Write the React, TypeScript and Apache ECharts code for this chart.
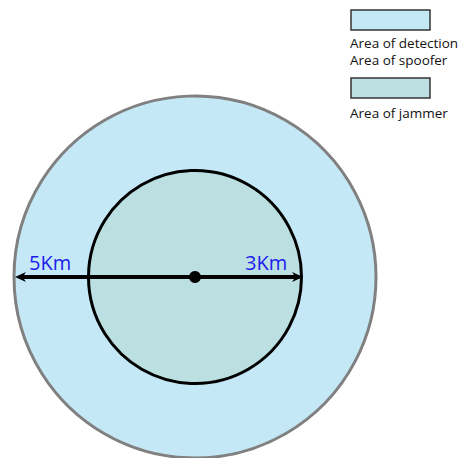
import React, { useEffect, useRef } from "react";
import * as echarts from "echarts";

// Areas: radius in km
const areaNames = ["Area of detection", "Area of jammer"];
const areaRadii = [5, 3];
const areaFills = ["#c5e8f7", "#bcdfe1"];
const areaStrokes = ["#808080", "#000000"];
const rangeLabels = ["5Km", "3Km"];
const legendLabels = ["Area of detection", "Area of spoofer", "Area of jammer"];

const PX_PER_KM = 36.0;
const CX = 195;
const CY = 277;
const W = 464;
const H = 458;

export default function App() {
  const ref = useRef<HTMLDivElement>(null);
  useEffect(() => {
    if (!ref.current) return;
    const chart = echarts.init(ref.current, null, { renderer: "svg" });
    const xMin = -CX / PX_PER_KM;
    const xMax = (W - CX) / PX_PER_KM;
    const yMax = CY / PX_PER_KM;
    const yMin = -(H - CY) / PX_PER_KM;
    const circleData = areaRadii.map((r, i) => [0, 0, r, i]);
    const arrowData = areaRadii.map((r, i) => [i === 0 ? -r : r, 0, i]);
    const legendFont = "13.5px 'Open Sans', sans-serif";
    chart.setOption({
      animation: false,
      grid: { left: 0, top: 0, width: W, height: H },
      xAxis: { type: "value", min: xMin, max: xMax, show: false },
      yAxis: { type: "value", min: yMin, max: yMax, show: false },
      series: [
        {
          type: "custom",
          name: "areas",
          data: circleData,
          renderItem: (params: any, api: any) => {
            const c = api.coord([api.value(0), api.value(1)]);
            const r = api.size([api.value(2), 0])[0];
            const i = api.value(3);
            return {
              type: "circle",
              shape: { cx: c[0], cy: c[1], r: i === 0 ? r + 1 : r - 1.5 },
              style: {
                fill: areaFills[i],
                stroke: areaStrokes[i],
                lineWidth: 3,
              },
            };
          },
          z: 1,
        },
        {
          type: "custom",
          name: "arrows",
          data: arrowData,
          renderItem: (params: any, api: any) => {
            const c = api.coord([0, 0]);
            const e = api.coord([api.value(0), api.value(1)]);
            const i = api.value(2);
            const dir = e[0] < c[0] ? -1 : 1;
            const tip = [e[0], e[1]];
            const headLen = 11;
            const headHalf = 5;
            const label = rangeLabels[i];
            return {
              type: "group",
              children: [
                {
                  type: "line",
                  shape: { x1: c[0], y1: c[1], x2: e[0] - dir * headLen * 0.6, y2: e[1] },
                  style: { stroke: "#000", lineWidth: 4 },
                },
                {
                  type: "polygon",
                  shape: {
                    points: [
                      tip,
                      [tip[0] - dir * headLen, tip[1] - headHalf],
                      [tip[0] - dir * headLen * 0.7, tip[1]],
                      [tip[0] - dir * headLen, tip[1] + headHalf],
                    ],
                  },
                  style: { fill: "#000" },
                },
                {
                  type: "text",
                  x: dir < 0 ? e[0] + 14 : e[0] - 58,
                  y: e[1] - 25,
                  style: {
                    text: label,
                    fill: "#1c1cf0",
                    font: "20px 'Open Sans', sans-serif",
                  },
                },
              ],
            };
          },
          z: 2,
        },
        {
          type: "custom",
          name: "center",
          data: [[0, 0]],
          renderItem: (params: any, api: any) => {
            const c = api.coord([api.value(0), api.value(1)]);
            return {
              type: "circle",
              shape: { cx: c[0], cy: c[1], r: 6 },
              style: { fill: "#000" },
            };
          },
          z: 3,
        },
      ],
      graphic: [
        {
          type: "rect",
          shape: { x: 351, y: 10, width: 79, height: 20 },
          style: { fill: areaFills[0], stroke: "#333", lineWidth: 1.5 },
        },
        {
          type: "text",
          x: 350,
          y: 36,
          style: { text: legendLabels[0], fill: "#111", font: legendFont },
        },
        {
          type: "text",
          x: 350,
          y: 53,
          style: { text: legendLabels[1], fill: "#111", font: legendFont },
        },
        {
          type: "rect",
          shape: { x: 351, y: 78, width: 79, height: 20 },
          style: { fill: areaFills[1], stroke: "#333", lineWidth: 1.5 },
        },
        {
          type: "text",
          x: 350,
          y: 106,
          style: { text: legendLabels[2], fill: "#111", font: legendFont },
        },
      ],
    });
    return () => chart.dispose();
  }, []);
  return (
    <div
      ref={ref}
      style={{ position: "absolute", left: 0, top: 0, width: W, height: H, background: "#fff" }}
    />
  );
}
